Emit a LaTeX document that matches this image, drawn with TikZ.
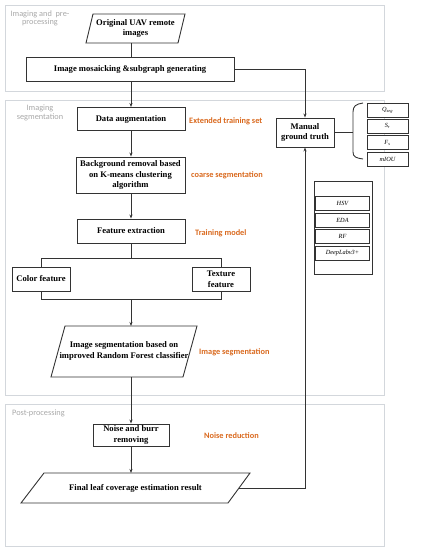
\documentclass[tikz,border=0pt]{standalone}
\usepackage{fontspec}
\setmainfont{Liberation Serif}
\newfontfamily\carl{Carlito}
\usetikzlibrary{arrows.meta,shadows}
\definecolor{panelc}{HTML}{D3D7DC}
\definecolor{grayt}{HTML}{A8A8A8}
\definecolor{orng}{HTML}{D9691E}
\definecolor{linec}{HTML}{333333}
\tikzset{
  box/.style={draw=linec,line width=0.9pt,fill=white,align=center,font=\fontsize{8.6}{10.5}\selectfont\bfseries,inner sep=1pt},
  txt/.style={align=center,font=\fontsize{8.6}{10.5}\selectfont\bfseries,inner sep=1pt},
  para/.style={draw=linec,line width=0.9pt},
  panel/.style={draw=panelc,line width=1pt},
  plabel/.style={text=grayt,font=\carl\fontsize{8.3}{9.5}\selectfont,align=center,inner sep=0pt},
  olabel/.style={text=orng,font=\carl\fontsize{8.3}{9.5}\selectfont\bfseries,anchor=west,inner sep=0pt},
  conn/.style={draw=linec,line width=0.9pt},
  arr/.style={conn,-{Stealth[length=4pt,width=3pt]}},
  mbox/.style={draw=linec,line width=0.6pt,fill=white,minimum width=41pt,minimum height=14pt,inner sep=0pt,
    font=\fontsize{6.3}{7}\selectfont\itshape,drop shadow={shadow xshift=0.7pt,shadow yshift=-0.7pt,fill=black!60,opacity=1}},
}
\begin{document}
\begin{tikzpicture}[x=1pt,y=-1pt]
\useasboundingbox (0,0) rectangle (426,550);
% panels
\draw[panel] (5,5) rectangle (384,91);
\draw[panel] (5,100) rectangle (384,395);
\draw[panel] (5,404) rectangle (384,546);
\node[plabel] (p1a) at (40,14) {Imaging and\ \ pre-};
\node[plabel] (p1b) at (40,22) {processing};
\node[plabel] (p2a) at (40,108) {Imaging};
\node[plabel] (p2b) at (40,117) {segmentation};
\node[plabel,anchor=west] (p3) at (12,413) {Post-processing};

% original images (parallelogram)
\draw[para] (93,14) -- (185,14) -- (178,43) -- (86,43) -- cycle;
\node[txt] (orig) at (135.5,28.5) {Original UAV remote\\images};
\coordinate (origb) at (131,43);

\node[box,minimum width=208pt,minimum height=24pt] (mos) at (130,69) {Image mosaicking \&subgraph generating};
\node[box,minimum width=108pt,minimum height=23pt] (dat) at (131,119) {Data augmentation};
\node[box,minimum width=109pt,minimum height=36pt] (bg) at (130.5,175) {Background removal based\\on K-means clustering\\algorithm};
\node[box,minimum width=108pt,minimum height=24pt] (fe) at (131,231) {Feature extraction};
\node[box,minimum width=58pt,minimum height=24pt] (col) at (41,279) {Color feature};
\node[box,minimum width=58pt,minimum height=24pt] (tex) at (221,279) {Texture\\feature};

% segmentation parallelogram
\draw[para] (65,326) -- (197,326) -- (183,377) -- (51,377) -- cycle;
\node[txt] (seg) at (124,351) {Image segmentation based on\\improved Random Forest classifier};
\coordinate (segt) at (131,326);
\coordinate (segb) at (131,377);

\node[box,minimum width=76pt,minimum height=22pt] (noise) at (131,435) {Noise and burr\\removing};

% final parallelogram
\draw[para] (44,473) -- (250,473) -- (228,503) -- (21,503) -- cycle;
\node[txt] (fin) at (135.5,488) {Final leaf coverage estimation result};
\coordinate (fint) at (131,473);
\coordinate (finr) at (239,488);

\node[box,minimum width=58pt,minimum height=29pt] (mgt) at (305,132.5) {Manual\\ground truth};

% orange labels
\node[olabel] (l1) at (189,121) {Extended training set};
\node[olabel] (l2) at (191,175) {coarse segmentation};
\node[olabel] (l3) at (195,233) {Training model};
\node[olabel] (l4) at (199,352) {Image segmentation};
\node[olabel] (l5) at (204,436) {Noise reduction};

% connectors
\draw[conn] (origb) -- (mos.north -| origb);
\draw[arr] (mos.south -| dat.north) -- (dat.north);
\draw[arr] (dat.south) -- (dat.south |- bg.north);
\draw[arr] (bg.south -| fe.north) -- (fe.north);
\coordinate (bt) at (131,258);
\coordinate (bb) at (131,299);
\draw[conn] (fe.south) -- (bt);
\draw[conn] (col.north) -- (col.north |- bt) -- (tex.north |- bt) -- (tex.north);
\draw[conn] (col.south) -- (col.south |- bb) -- (tex.south |- bb) -- (tex.south);
\draw[arr] (bb) -- (segt);
\draw[arr] (segb) -- (noise.north);
\draw[arr] (noise.south) -- (fint);
\draw[arr] (mos.east) -- (mos.east -| mgt.north) -- (mgt.north);
\draw[arr] (finr) -- (finr -| mgt.south) -- (mgt.south);

% metrics
\node[mbox] (q) at (387.5,110) {Q\textsubscript{seg}};
\node[mbox] (s) at (387.5,126) {S\textsubscript{r}};
\node[mbox] (f) at (387.5,142.5) {F\textsubscript{s}};
\node[mbox] (m) at (387.5,159.5) {mIOU};
\coordinate (br) at (353,132.5);
\draw[conn] (mgt.east) -- (br);
\draw[conn] (363,103) .. controls (356,104) and (353,106) .. (353,112) -- (353,152) .. controls (353,157) and (356,158) .. (363,159);

% methods
\node[draw=linec,line width=0.7pt,minimum width=58pt,minimum height=93pt,inner sep=0pt] (meth) at (343,227.5) {};
\node[mbox,minimum width=54pt] (hsv) at (342.5,203.5) {HSV};
\node[mbox,minimum width=54pt] (eda) at (342.5,220) {EDA};
\node[mbox,minimum width=54pt] (rf) at (342.5,236) {RF};
\node[mbox,minimum width=54pt] (dl) at (342.5,253) {DeepLabv3+};
\end{tikzpicture}
\end{document}
